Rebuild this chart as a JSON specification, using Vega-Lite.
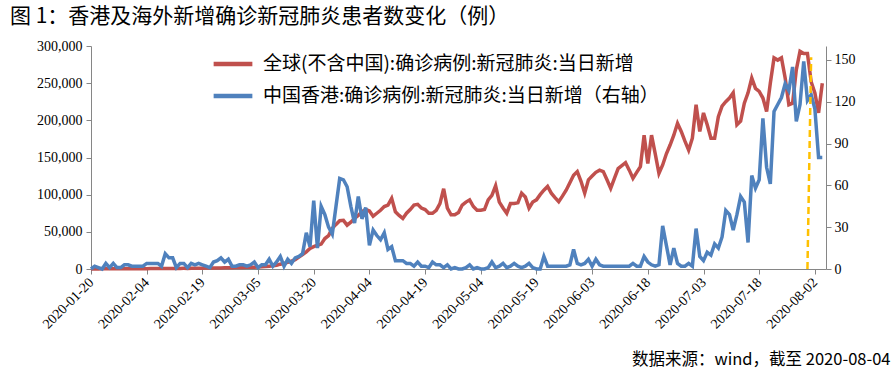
{
  "$schema": "https://vega.github.io/schema/vega-lite/v6.json",
  "width": 735,
  "height": 223,
  "autosize": {"type": "none"},
  "padding": {"left": 91, "top": 46, "right": 68, "bottom": 105},
  "background": "white",
  "title": {
    "text": "图 1：香港及海外新增确诊新冠肺炎患者数变化（例）",
    "anchor": "start", "frame": "group", "dx": -81, "offset": 12,
    "font": "Noto Sans CJK SC", "fontSize": 21, "fontWeight": "normal", "color": "#000000"
  },
  "config": {
    "view": {"stroke": null},
    "axis": {
      "grid": false, "domainColor": "#868686", "tickColor": "#868686", "tickSize": 5,
      "labelFont": "Times New Roman, Liberation Serif, serif", "labelFontSize": 14, "labelColor": "#000000"
    }
  },
  "datasets": {
    "cases": [
      {"date":"2020-01-20","global":100,"hk":0},
      {"date":"2020-01-21","global":150,"hk":2},
      {"date":"2020-01-22","global":100,"hk":1},
      {"date":"2020-01-23","global":200,"hk":0},
      {"date":"2020-01-24","global":250,"hk":4},
      {"date":"2020-01-25","global":200,"hk":1},
      {"date":"2020-01-26","global":300,"hk":4},
      {"date":"2020-01-27","global":350,"hk":1},
      {"date":"2020-01-28","global":300,"hk":1},
      {"date":"2020-01-29","global":400,"hk":3},
      {"date":"2020-01-30","global":450,"hk":3},
      {"date":"2020-01-31","global":400,"hk":2},
      {"date":"2020-02-01","global":500,"hk":2},
      {"date":"2020-02-02","global":450,"hk":2},
      {"date":"2020-02-03","global":550,"hk":2},
      {"date":"2020-02-04","global":500,"hk":4},
      {"date":"2020-02-05","global":600,"hk":4},
      {"date":"2020-02-06","global":550,"hk":4},
      {"date":"2020-02-07","global":650,"hk":4},
      {"date":"2020-02-08","global":600,"hk":2},
      {"date":"2020-02-09","global":700,"hk":11},
      {"date":"2020-02-10","global":650,"hk":8},
      {"date":"2020-02-11","global":750,"hk":8},
      {"date":"2020-02-12","global":700,"hk":1},
      {"date":"2020-02-13","global":800,"hk":4},
      {"date":"2020-02-14","global":850,"hk":4},
      {"date":"2020-02-15","global":800,"hk":1},
      {"date":"2020-02-16","global":900,"hk":4},
      {"date":"2020-02-17","global":950,"hk":3},
      {"date":"2020-02-18","global":1000,"hk":4},
      {"date":"2020-02-19","global":1100,"hk":3},
      {"date":"2020-02-20","global":1200,"hk":2},
      {"date":"2020-02-21","global":1250,"hk":1},
      {"date":"2020-02-22","global":1300,"hk":5},
      {"date":"2020-02-23","global":1400,"hk":6},
      {"date":"2020-02-24","global":1500,"hk":8},
      {"date":"2020-02-25","global":1600,"hk":5},
      {"date":"2020-02-26","global":1700,"hk":7},
      {"date":"2020-02-27","global":1800,"hk":2},
      {"date":"2020-02-28","global":1900,"hk":2},
      {"date":"2020-02-29","global":2000,"hk":3},
      {"date":"2020-03-01","global":2100,"hk":3},
      {"date":"2020-03-02","global":2300,"hk":2},
      {"date":"2020-03-03","global":2500,"hk":3},
      {"date":"2020-03-04","global":2400,"hk":5},
      {"date":"2020-03-05","global":2800,"hk":1},
      {"date":"2020-03-06","global":3000,"hk":3},
      {"date":"2020-03-07","global":3300,"hk":3},
      {"date":"2020-03-08","global":3700,"hk":7},
      {"date":"2020-03-09","global":4200,"hk":2},
      {"date":"2020-03-10","global":5000,"hk":5},
      {"date":"2020-03-11","global":6500,"hk":9},
      {"date":"2020-03-12","global":7500,"hk":2},
      {"date":"2020-03-13","global":9000,"hk":7},
      {"date":"2020-03-14","global":10500,"hk":4},
      {"date":"2020-03-15","global":12500,"hk":8},
      {"date":"2020-03-16","global":16000,"hk":9},
      {"date":"2020-03-17","global":19500,"hk":11},
      {"date":"2020-03-18","global":23000,"hk":26},
      {"date":"2020-03-19","global":27500,"hk":16},
      {"date":"2020-03-20","global":30000,"hk":49},
      {"date":"2020-03-21","global":32000,"hk":15},
      {"date":"2020-03-22","global":33500,"hk":45},
      {"date":"2020-03-23","global":41000,"hk":39},
      {"date":"2020-03-24","global":45000,"hk":30},
      {"date":"2020-03-25","global":54700,"hk":25},
      {"date":"2020-03-26","global":60000,"hk":45},
      {"date":"2020-03-27","global":65000,"hk":65},
      {"date":"2020-03-28","global":65500,"hk":64},
      {"date":"2020-03-29","global":59000,"hk":59},
      {"date":"2020-03-30","global":63000,"hk":45},
      {"date":"2020-03-31","global":68000,"hk":33},
      {"date":"2020-04-01","global":72000,"hk":52},
      {"date":"2020-04-02","global":77000,"hk":36},
      {"date":"2020-04-03","global":80000,"hk":44},
      {"date":"2020-04-04","global":78000,"hk":17},
      {"date":"2020-04-05","global":71000,"hk":28},
      {"date":"2020-04-06","global":75000,"hk":24},
      {"date":"2020-04-07","global":79000,"hk":21},
      {"date":"2020-04-08","global":84000,"hk":26},
      {"date":"2020-04-09","global":86000,"hk":14},
      {"date":"2020-04-10","global":95000,"hk":16},
      {"date":"2020-04-11","global":77000,"hk":6},
      {"date":"2020-04-12","global":72000,"hk":6},
      {"date":"2020-04-13","global":68000,"hk":6},
      {"date":"2020-04-14","global":75000,"hk":4},
      {"date":"2020-04-15","global":80000,"hk":4},
      {"date":"2020-04-16","global":86000,"hk":2},
      {"date":"2020-04-17","global":87000,"hk":5},
      {"date":"2020-04-18","global":82000,"hk":2},
      {"date":"2020-04-19","global":80000,"hk":2},
      {"date":"2020-04-20","global":75000,"hk":1},
      {"date":"2020-04-21","global":75000,"hk":5},
      {"date":"2020-04-22","global":79000,"hk":3},
      {"date":"2020-04-23","global":88000,"hk":3},
      {"date":"2020-04-24","global":108000,"hk":1},
      {"date":"2020-04-25","global":82000,"hk":3},
      {"date":"2020-04-26","global":73000,"hk":0},
      {"date":"2020-04-27","global":73000,"hk":1},
      {"date":"2020-04-28","global":76000,"hk":0},
      {"date":"2020-04-29","global":86000,"hk":0},
      {"date":"2020-04-30","global":90000,"hk":1},
      {"date":"2020-05-01","global":93000,"hk":3},
      {"date":"2020-05-02","global":84000,"hk":0},
      {"date":"2020-05-03","global":79000,"hk":1},
      {"date":"2020-05-04","global":79000,"hk":0},
      {"date":"2020-05-05","global":80000,"hk":0},
      {"date":"2020-05-06","global":93000,"hk":1},
      {"date":"2020-05-07","global":99000,"hk":5},
      {"date":"2020-05-08","global":112000,"hk":1},
      {"date":"2020-05-09","global":90000,"hk":2},
      {"date":"2020-05-10","global":82000,"hk":4},
      {"date":"2020-05-11","global":75000,"hk":1},
      {"date":"2020-05-12","global":88000,"hk":2},
      {"date":"2020-05-13","global":88000,"hk":4},
      {"date":"2020-05-14","global":89000,"hk":2},
      {"date":"2020-05-15","global":102000,"hk":1},
      {"date":"2020-05-16","global":97000,"hk":2},
      {"date":"2020-05-17","global":82000,"hk":4},
      {"date":"2020-05-18","global":90000,"hk":1},
      {"date":"2020-05-19","global":93000,"hk":0},
      {"date":"2020-05-20","global":100000,"hk":0},
      {"date":"2020-05-21","global":106000,"hk":9},
      {"date":"2020-05-22","global":111000,"hk":2},
      {"date":"2020-05-23","global":102000,"hk":2},
      {"date":"2020-05-24","global":96000,"hk":2},
      {"date":"2020-05-25","global":90500,"hk":2},
      {"date":"2020-05-26","global":98000,"hk":2},
      {"date":"2020-05-27","global":106000,"hk":2},
      {"date":"2020-05-28","global":116000,"hk":3},
      {"date":"2020-05-29","global":126000,"hk":14},
      {"date":"2020-05-30","global":131000,"hk":4},
      {"date":"2020-05-31","global":118000,"hk":3},
      {"date":"2020-06-01","global":102000,"hk":4},
      {"date":"2020-06-02","global":120000,"hk":7},
      {"date":"2020-06-03","global":125000,"hk":2},
      {"date":"2020-06-04","global":130000,"hk":7},
      {"date":"2020-06-05","global":133000,"hk":3},
      {"date":"2020-06-06","global":131000,"hk":2},
      {"date":"2020-06-07","global":120000,"hk":2},
      {"date":"2020-06-08","global":108500,"hk":2},
      {"date":"2020-06-09","global":122000,"hk":2},
      {"date":"2020-06-10","global":135000,"hk":2},
      {"date":"2020-06-11","global":139000,"hk":2},
      {"date":"2020-06-12","global":143000,"hk":2},
      {"date":"2020-06-13","global":133000,"hk":2},
      {"date":"2020-06-14","global":122000,"hk":4},
      {"date":"2020-06-15","global":130000,"hk":2},
      {"date":"2020-06-16","global":137600,"hk":2},
      {"date":"2020-06-17","global":180000,"hk":9},
      {"date":"2020-06-18","global":142000,"hk":5},
      {"date":"2020-06-19","global":180000,"hk":3},
      {"date":"2020-06-20","global":155000,"hk":2},
      {"date":"2020-06-21","global":128700,"hk":3},
      {"date":"2020-06-22","global":140000,"hk":31},
      {"date":"2020-06-23","global":155000,"hk":17},
      {"date":"2020-06-24","global":166800,"hk":3},
      {"date":"2020-06-25","global":180000,"hk":15},
      {"date":"2020-06-26","global":196000,"hk":4},
      {"date":"2020-06-27","global":185000,"hk":2},
      {"date":"2020-06-28","global":172000,"hk":2},
      {"date":"2020-06-29","global":160000,"hk":4},
      {"date":"2020-06-30","global":176000,"hk":2},
      {"date":"2020-07-01","global":221000,"hk":29},
      {"date":"2020-07-02","global":185000,"hk":9},
      {"date":"2020-07-03","global":210000,"hk":6},
      {"date":"2020-07-04","global":194000,"hk":12},
      {"date":"2020-07-05","global":176000,"hk":10},
      {"date":"2020-07-06","global":176000,"hk":18},
      {"date":"2020-07-07","global":205000,"hk":15},
      {"date":"2020-07-08","global":219000,"hk":23},
      {"date":"2020-07-09","global":225000,"hk":42},
      {"date":"2020-07-10","global":230000,"hk":39},
      {"date":"2020-07-11","global":237000,"hk":28},
      {"date":"2020-07-12","global":194000,"hk":39},
      {"date":"2020-07-13","global":199000,"hk":52},
      {"date":"2020-07-14","global":223000,"hk":48},
      {"date":"2020-07-15","global":237000,"hk":19},
      {"date":"2020-07-16","global":257000,"hk":67},
      {"date":"2020-07-17","global":243000,"hk":58},
      {"date":"2020-07-18","global":239000,"hk":64},
      {"date":"2020-07-19","global":230000,"hk":108},
      {"date":"2020-07-20","global":212000,"hk":73},
      {"date":"2020-07-21","global":250000,"hk":61},
      {"date":"2020-07-22","global":284000,"hk":113},
      {"date":"2020-07-23","global":281000,"hk":118},
      {"date":"2020-07-24","global":284000,"hk":123},
      {"date":"2020-07-25","global":257000,"hk":133},
      {"date":"2020-07-26","global":221000,"hk":128},
      {"date":"2020-07-27","global":223000,"hk":145},
      {"date":"2020-07-28","global":268000,"hk":106},
      {"date":"2020-07-29","global":293000,"hk":118},
      {"date":"2020-07-30","global":290000,"hk":149},
      {"date":"2020-07-31","global":290000,"hk":121},
      {"date":"2020-08-01","global":252000,"hk":125},
      {"date":"2020-08-02","global":237000,"hk":115},
      {"date":"2020-08-03","global":210000,"hk":80},
      {"date":"2020-08-04","global":250000,"hk":80}
    ],
    "marker": [
      {"date":"2020-07-31","v":0},
      {"date":"2020-08-01","v":152}
    ]
  },
  "encoding": {
    "x": {
      "field": "date", "type": "temporal", "timeUnit": "utcyearmonthdate",
      "scale": {"type": "utc", "domain": [{"year":2020,"month":1,"date":20,"utc":true},{"year":2020,"month":8,"date":5,"utc":true}]},
      "axis": {
        "values": [
          {"year":2020,"month":1,"date":20,"utc":true},
          {"year":2020,"month":2,"date":4,"utc":true},
          {"year":2020,"month":2,"date":19,"utc":true},
          {"year":2020,"month":3,"date":5,"utc":true},
          {"year":2020,"month":3,"date":20,"utc":true},
          {"year":2020,"month":4,"date":4,"utc":true},
          {"year":2020,"month":4,"date":19,"utc":true},
          {"year":2020,"month":5,"date":4,"utc":true},
          {"year":2020,"month":5,"date":19,"utc":true},
          {"year":2020,"month":6,"date":3,"utc":true},
          {"year":2020,"month":6,"date":18,"utc":true},
          {"year":2020,"month":7,"date":3,"utc":true},
          {"year":2020,"month":7,"date":18,"utc":true},
          {"year":2020,"month":8,"date":2,"utc":true}
        ],
        "format": "%Y-%m-%d",
        "labelFont": "Times New Roman, Liberation Serif, serif", "labelFontSize": 14,
        "labelAngle": -45, "labelAlign": "right", "labelBaseline": "middle",
        "labelPadding": 6, "labelOverlap": false, "labelFlush": false,
        "title": "数据来源：wind，截至 2020-08-04",
        "titleX": 799, "titleY": 95, "titleAlign": "right", "titleAnchor": null,
        "titleBaseline": "alphabetic", "titleFont": "Noto Sans CJK SC", "titleFontSize": 16.5,
        "titleFontWeight": "normal", "titleColor": "#000000"
      }
    }
  },
  "layer": [
    {
      "data": {"name": "cases"},
      "mark": {"type": "line", "strokeWidth": 3.5, "timeUnitBandPosition": 0.5},
      "encoding": {
        "y": {
          "field": "global", "type": "quantitative",
          "scale": {"domain": [0, 300000]},
          "axis": {"orient": "left", "values": [0, 50000, 100000, 150000, 200000, 250000, 300000], "format": ",.0f", "title": null, "labelPadding": 4, "labelFont": "Times New Roman, Liberation Serif, serif", "labelFontSize": 14}
        },
        "color": {
          "datum": "全球(不含中国):确诊病例:新冠肺炎:当日新增",
          "scale": {
            "domain": ["全球(不含中国):确诊病例:新冠肺炎:当日新增", "中国香港:确诊病例:新冠肺炎:当日新增（右轴）"],
            "range": ["#C0504D", "#4F81BD"]
          },
          "legend": {
            "orient": "none", "legendX": 120, "legendY": -4, "direction": "vertical", "title": null,
            "symbolType": "stroke", "symbolSize": 1500, "symbolStrokeWidth": 4.5,
            "labelFont": "Noto Sans CJK SC", "labelFontSize": 19, "labelColor": "#000000",
            "labelOffset": 8, "rowPadding": -2, "labelLimit": 600, "padding": 0
          }
        }
      }
    },
    {
      "layer": [
        {
          "data": {"name": "cases"},
          "mark": {"type": "line", "strokeWidth": 3.5, "timeUnitBandPosition": 0.5},
          "encoding": {
            "y": {
              "field": "hk", "type": "quantitative",
              "scale": {"domain": [0, 150]},
              "axis": {"orient": "right", "values": [0, 30, 60, 90, 120, 150], "title": null, "labelPadding": 3, "labelFont": "Times New Roman, Liberation Serif, serif", "labelFontSize": 14}
            },
            "color": {"datum": "中国香港:确诊病例:新冠肺炎:当日新增（右轴）"}
          }
        },
        {
          "data": {"name": "marker"},
          "mark": {"type": "line", "color": "#FFC000", "strokeWidth": 2.5, "strokeDash": [7, 4], "timeUnitBandPosition": 0.5},
          "encoding": {
            "y": {"field": "v", "type": "quantitative"}
          }
        }
      ]
    }
  ],
  "resolve": {"scale": {"y": "independent"}}
}
